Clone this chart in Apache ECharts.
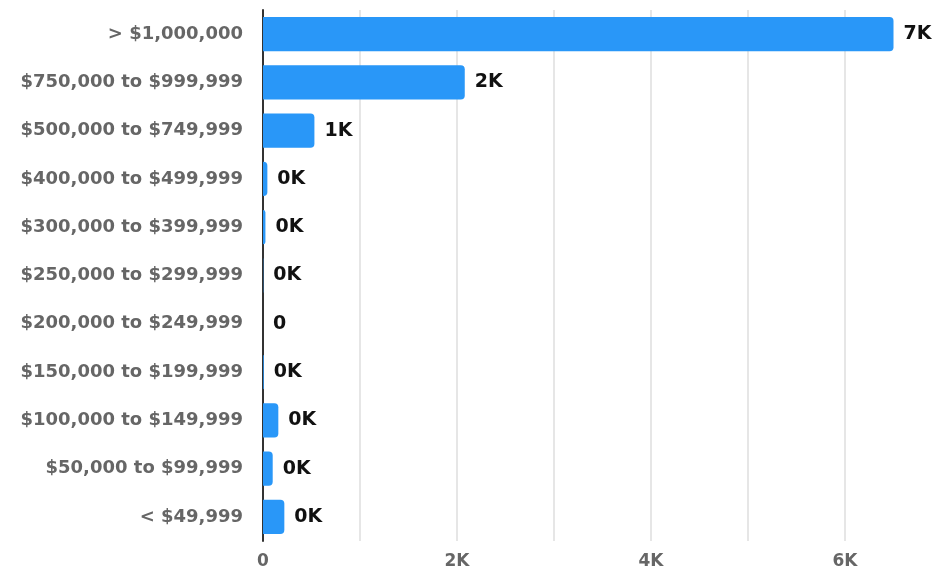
<!DOCTYPE html>
<html><head><meta charset="utf-8">
<script src="https://cdn.jsdelivr.net/npm/echarts@6/dist/echarts.min.js"></script>
<style>html,body{margin:0;padding:0;background:#fff;overflow:hidden;width:932px;height:571px}#c{width:952px;height:571px}</style>
</head><body><div id="c"></div>
<script>
const categories = ['> $1,000,000','$750,000 to $999,999','$500,000 to $749,999','$400,000 to $499,999','$300,000 to $399,999','$250,000 to $299,999','$200,000 to $249,999','$150,000 to $199,999','$100,000 to $149,999','$50,000 to $99,999','< $49,999'];
const values = [6500, 2080, 530, 45, 25, 3, 0, 8, 158, 100, 220];
const xTicks = {0:'0',2000:'2K',4000:'4K',6000:'6K'};
const FONT = 'DejaVu Sans';
const chart = echarts.init(document.getElementById('c'));
chart.setOption({
  animation:false,
  grid:{left:263, top:10, right:10, height:531, containLabel:false},
  xAxis:{type:'value', min:0, max:7000, interval:1000,
    axisLine:{show:false}, axisTick:{show:false},
    splitLine:{show:true, lineStyle:{color:'#e6e6e6', width:2}},
    axisLabel:{margin:12, color:'#666', fontFamily:FONT, fontWeight:700, fontSize:17,
      formatter:v=> (xTicks[v]!==undefined ? xTicks[v] : '')}},
  yAxis:{type:'category', data:categories, inverse:true,
    axisLine:{show:true, lineStyle:{color:'#333', width:2}}, axisTick:{show:false},
    axisLabel:{margin:20, color:'#666', fontFamily:FONT, fontWeight:700, fontSize:18}},
  series:[{type:'bar', data:values, barWidth:'71%',
    itemStyle:{color:'#2997f8', borderRadius:[0,4,4,0]},
    label:{show:true, position:'right', distance:10, color:'#111', fontFamily:FONT, fontWeight:700, fontSize:19,
      formatter:p=> p.value===0 ? '0' : Math.round(p.value/1000)+'K'}}]
});
</script></body></html>
